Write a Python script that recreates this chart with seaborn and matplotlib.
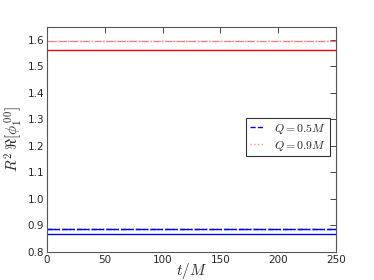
import seaborn as sns
import matplotlib.pyplot as plt
import pandas as pd

# time samples and the (flat) curves
t = [0, 50, 100, 150, 200, 250]
q05_solid = [0.868, 0.868, 0.868, 0.868, 0.868, 0.868]
q05_dash = [0.886, 0.886, 0.886, 0.886, 0.886, 0.886]
q05_dashdot = [0.888, 0.888, 0.888, 0.888, 0.888, 0.888]
q09_solid = [1.563, 1.563, 1.563, 1.563, 1.563, 1.563]
q09_dot = [1.597, 1.597, 1.597, 1.597, 1.597, 1.597]
q09_dashdot = [1.595, 1.595, 1.595, 1.595, 1.595, 1.595]

sns.set_theme(style="white")
plt.rcParams['mathtext.fontset'] = 'cm'
plt.rcParams['font.family'] = ['DejaVu Sans']

df = pd.DataFrame({'t': t})

fig, ax = plt.subplots(figsize=(3.74, 2.8), dpi=100)
sns.lineplot(data=df, x='t', y=q05_solid, color='blue', lw=1.0, ax=ax)
sns.lineplot(data=df, x='t', y=q05_dashdot, color='blue', lw=1.0, linestyle='-.', ax=ax)
sns.lineplot(data=df, x='t', y=q05_dash, color='blue', lw=1.0, linestyle='--', label=r'$Q=0.5M$', ax=ax)
sns.lineplot(data=df, x='t', y=q09_solid, color='red', lw=1.0, ax=ax)
sns.lineplot(data=df, x='t', y=q09_dashdot, color='#ff6666', lw=0.8, linestyle='-.', ax=ax)
sns.lineplot(data=df, x='t', y=q09_dot, color='#ff9090', lw=1.0, linestyle=':', label=r'$Q=0.9M$', ax=ax)

ax.set_xlim(0, 250)
ax.set_ylim(0.8, 1.65)
ax.set_xticks([0, 50, 100, 150, 200, 250])
ax.set_yticks([0.8, 0.9, 1.0, 1.1, 1.2, 1.3, 1.4, 1.5, 1.6])
ax.tick_params(direction='in', top=True, right=True, labelsize=7.5, length=4, width=0.6, pad=2)
for s in ax.spines.values():
    s.set_color('#555555')
    s.set_linewidth(0.8)
ax.set_xlabel(r'$t/M$', fontsize=11, labelpad=-3)
ax.set_ylabel(r'$R^2\,\Re[\phi_1^{\,00}]$', fontsize=11, labelpad=3)
leg = ax.legend(loc='center right', bbox_to_anchor=(1.0, 0.51), fontsize=8.5, frameon=True,
                fancybox=False, handlelength=1.2, handletextpad=0.9, borderpad=0.3, labelspacing=0.25)
leg.get_frame().set_edgecolor('black')
leg.get_frame().set_linewidth(0.8)

plt.subplots_adjust(left=0.126, right=0.898, bottom=0.1, top=0.905)
plt.savefig('out.png', dpi=100)
